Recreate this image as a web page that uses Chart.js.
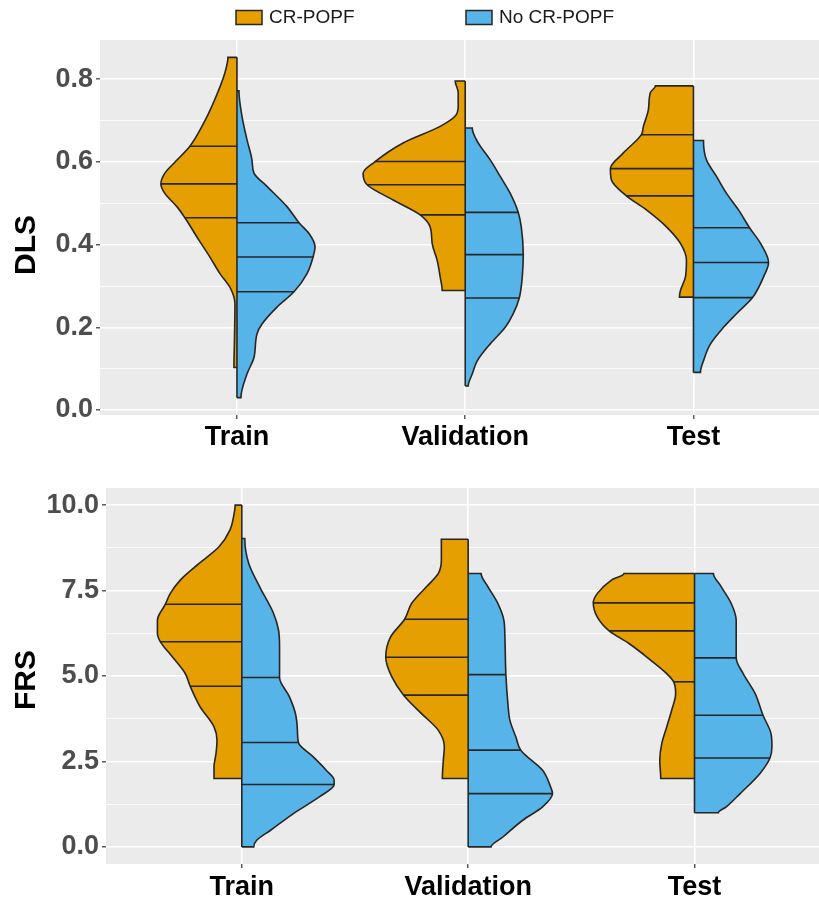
<!DOCTYPE html>
<html>
<head>
<meta charset="utf-8">
<script src="https://cdn.jsdelivr.net/npm/chart.js@4.4.1/dist/chart.umd.min.js"></script>
<style>
html,body{margin:0;padding:0;background:#ffffff;width:819px;height:905px;overflow:hidden}
#c1{position:absolute;left:0;top:0}
#c2{position:absolute;left:0;top:452px}
</style>
</head>
<body>
<canvas id="c1" width="819" height="452"></canvas>
<canvas id="c2" width="819" height="453"></canvas>
<script>
// ---------------- data ----------------
const categories = ['Train', 'Validation', 'Test'];
const seriesNames = ['CR-POPF', 'No CR-POPF'];
const seriesColors = ['#E69F00', '#56B4E9'];
const panelTitles = ['DLS', 'FRS'];

const dlsMajorTicks = [0.0, 0.2, 0.4, 0.6, 0.8];
const dlsMinorTicks = [0.1, 0.3, 0.5, 0.7];
const frsMajorTicks = [0.0, 2.5, 5.0, 7.5, 10.0];
const frsMinorTicks = [1.25, 3.75, 6.25, 8.75];

// DLS – density profiles (value levels, relative half-width) and quartiles
const dlsTrainPosY = [0.853, 0.816, 0.735, 0.695, 0.638, 0.597, 0.573, 0.547, 0.524, 0.492, 0.465, 0.411, 0.370, 0.330, 0.297, 0.257, 0.168, 0.103];
const dlsTrainPosW = [9, 12, 25, 33, 47, 63, 72, 76, 72, 60, 52, 38, 27, 17, 7, 2, 2.5, 3];
const dlsTrainPosQ = [0.465, 0.547, 0.638];
const dlsTrainNegY = [0.772, 0.711, 0.654, 0.605, 0.573, 0.541, 0.492, 0.453, 0.427, 0.395, 0.370, 0.330, 0.286, 0.249, 0.208, 0.184, 0.127, 0.087, 0.030];
const dlsTrainNegW = [2, 5, 10, 15, 17, 30, 50, 62, 72, 78, 76, 70, 57, 40, 25, 20, 17, 10, 4];
const dlsTrainNegQ = [0.286, 0.370, 0.453];

const dlsValPosY = [0.796, 0.768, 0.735, 0.711, 0.686, 0.646, 0.601, 0.573, 0.545, 0.508, 0.472, 0.443, 0.403, 0.362, 0.322, 0.289];
const dlsValPosW = [10, 7, 7, 10, 25, 62, 90, 102, 98, 72, 45, 35, 33, 28, 25, 23];
const dlsValPosQ = [0.472, 0.545, 0.601];
const dlsValNegY = [0.682, 0.646, 0.605, 0.565, 0.524, 0.478, 0.443, 0.376, 0.322, 0.271, 0.233, 0.200, 0.160, 0.119, 0.087, 0.058];
const dlsValNegW = [7, 13, 25, 35, 45, 53, 56, 58, 57, 54, 48, 40, 25, 12, 7, 3];
const dlsValNegQ = [0.271, 0.376, 0.478];

const dlsTestPosY = [0.784, 0.768, 0.727, 0.686, 0.666, 0.622, 0.584, 0.557, 0.518, 0.484, 0.443, 0.403, 0.362, 0.322, 0.289, 0.273];
const dlsTestPosW = [38, 43, 45, 50, 52, 70, 83, 82, 67, 47, 27, 13, 7, 8, 13, 14];
const dlsTestPosQ = [0.518, 0.584, 0.666];
const dlsTestNegY = [0.652, 0.605, 0.565, 0.524, 0.484, 0.441, 0.403, 0.357, 0.322, 0.272, 0.233, 0.200, 0.160, 0.119, 0.091];
const dlsTestNegW = [10, 13, 23, 33, 45, 56, 67, 75, 70, 59, 43, 30, 17, 10, 7];
const dlsTestNegQ = [0.272, 0.357, 0.441];

// FRS – density profiles and quartiles
const frsTrainPosY = [10.0, 9.756, 9.268, 8.78, 8.293, 7.805, 7.415, 7.10, 6.634, 6.244, 6.0, 5.561, 5.073, 4.702, 4.098, 3.512, 3.122, 2.732, 2.341, 2.0];
const frsTrainPosW = [6.7, 7.7, 12, 23, 43, 62, 72, 77, 85, 85, 82, 70, 57, 52, 42, 28, 25, 26, 28, 28];
const frsTrainPosQ = [4.702, 6.0, 7.10];
const frsTrainNegY = [9.024, 8.293, 7.61, 6.829, 6.341, 5.854, 4.956, 4.39, 3.902, 3.415, 3.054, 2.634, 2.244, 1.951, 1.824, 1.463, 0.976, 0.488, 0.195, 0.0];
const frsTrainNegW = [3, 7, 18, 32, 37, 38, 38, 48, 54, 56, 57, 72, 85, 93, 93, 78, 52, 29, 15, 12];
const frsTrainNegQ = [1.824, 3.054, 4.956];

const frsValPosY = [9.0, 8.39, 8.0, 7.61, 7.12, 6.66, 6.15, 5.55, 4.98, 4.44, 3.90, 3.41, 2.93, 2.54, 2.0];
const frsValPosW = [27, 27, 30, 42, 57, 64, 78, 83, 77, 65, 47, 30, 24, 25, 26];
const frsValPosQ = [4.44, 5.55, 6.66];
const frsValNegY = [8.0, 7.61, 7.12, 6.63, 6.15, 5.04, 4.20, 3.71, 3.22, 2.83, 2.24, 1.76, 1.56, 1.17, 0.78, 0.29, 0.0];
const frsValNegW = [13, 20, 30, 36, 37, 38, 40, 42, 48, 53, 75, 83, 85, 75, 55, 35, 23];
const frsValNegQ = [1.56, 2.83, 5.04];

const frsTestPosY = [8.0, 7.80, 7.41, 7.14, 6.73, 6.32, 5.95, 5.46, 5.07, 4.83, 4.49, 4.0, 3.51, 3.02, 2.54, 2.0];
const frsTestPosW = [71, 84, 98, 102, 98, 86, 66, 44, 28, 21, 19, 23, 28, 33, 35, 34];
const frsTestPosQ = [4.83, 6.32, 7.14];
const frsTestNegY = [8.0, 7.61, 7.12, 6.63, 6.15, 5.53, 5.07, 4.49, 3.85, 3.32, 2.93, 2.60, 2.15, 1.56, 1.17, 1.0];
const frsTestNegW = [19, 27, 37, 42, 42, 42, 49, 61, 69, 77, 78, 76, 66, 46, 32, 24];
const frsTestNegQ = [2.60, 3.85, 5.53];

// ---------------- helpers ----------------
const FONT = "'Liberation Sans', Arial, Helvetica, sans-serif";
const OUTLINE = '#262626';
const DENSITY_TO_CATEGORY = 1 / 228;   // converts relative half-width into category units

Chart.defaults.font.family = FONT;

function interpWidth(ys, ws, q) {
  for (let i = 0; i < ys.length - 1; i++) {
    const a = ys[i], b = ys[i + 1];
    if (q <= a && q >= b) {
      const t = a === b ? 0 : (a - q) / (a - b);
      return ws[i] + t * (ws[i + 1] - ws[i]);
    }
  }
  return 0;
}

function buildDatasets(violins) {
  const ds = [];
  violins.forEach(v => {
    const c = v.cat + 1;
    const sgn = v.side === 0 ? -1 : 1;
    const pts = [{ x: c, y: v.y[0] }];
    v.y.forEach((y, i) => pts.push({ x: c + sgn * v.w[i] * DENSITY_TO_CATEGORY, y: y }));
    pts.push({ x: c, y: v.y[v.y.length - 1] });
    ds.push({
      label: seriesNames[v.side],
      data: pts,
      fill: 'shape',
      backgroundColor: seriesColors[v.side],
      borderColor: OUTLINE,
      borderWidth: 1.6,
      cubicInterpolationMode: 'monotone',
      pointRadius: 0,
      order: 5
    });
    v.q.forEach(q => {
      const w = interpWidth(v.y, v.w, q);
      ds.push({
        label: 'quartile',
        data: [{ x: c, y: q }, { x: c + sgn * w * DENSITY_TO_CATEGORY, y: q }],
        fill: false,
        borderColor: OUTLINE,
        borderWidth: 1.6,
        tension: 0,
        pointRadius: 0,
        order: 1
      });
    });
  });
  categories.forEach((cat, ci) => {
    const vs = violins.filter(v => v.cat === ci);
    const top = Math.max(...vs.map(v => v.y[0]));
    const bot = Math.min(...vs.map(v => v.y[v.y.length - 1]));
    ds.push({
      label: 'center',
      data: [{ x: ci + 1, y: top }, { x: ci + 1, y: bot }],
      fill: false,
      borderColor: OUTLINE,
      borderWidth: 1.6,
      tension: 0,
      pointRadius: 0,
      order: 0
    });
  });
  return ds;
}

const panelBg = {
  id: 'panelBg',
  beforeDraw(chart) {
    const { ctx, chartArea: a } = chart;
    ctx.save();
    ctx.fillStyle = '#EBEBEB';
    ctx.fillRect(a.left, a.top, a.right - a.left, a.bottom - a.top);
    ctx.restore();
  }
};

const yTitle = {
  id: 'yTitle',
  afterDraw(chart, args, opts) {
    const ctx = chart.ctx;
    ctx.save();
    ctx.translate(27, opts.centerY);
    ctx.rotate(-Math.PI / 2);
    ctx.fillStyle = '#000000';
    ctx.font = 'bold 30px ' + FONT;
    ctx.textAlign = 'center';
    ctx.textBaseline = 'middle';
    ctx.fillText(opts.text, 0, 0);
    ctx.restore();
  }
};

const topLegend = {
  id: 'topLegend',
  afterDraw(chart) {
    const ctx = chart.ctx;
    ctx.save();
    const starts = [236, 466];
    seriesNames.forEach((name, i) => {
      const x = starts[i];
      ctx.fillStyle = seriesColors[i];
      ctx.fillRect(x, 10.5, 26, 14);
      ctx.strokeStyle = OUTLINE;
      ctx.lineWidth = 1.5;
      ctx.strokeRect(x, 10.5, 26, 14);
      ctx.fillStyle = '#1a1a1a';
      ctx.font = '19px ' + FONT;
      ctx.textBaseline = 'middle';
      ctx.textAlign = 'left';
      ctx.fillText(name, x + 33, 18);
    });
    ctx.restore();
  }
};

function isIn(list, v) { return list.some(m => Math.abs(m - v) < 1e-9); }

function makeOptions(cfg) {
  const allTicks = cfg.majors.concat(cfg.minors).sort((a, b) => a - b);
  return {
    responsive: false,
    animation: false,
    events: [],
    indexAxis: 'y',
    layout: { padding: { top: cfg.padTop, left: 0, right: 0, bottom: 0 } },
    plugins: {
      legend: { display: false },
      tooltip: { enabled: false },
      yTitle: { text: cfg.title, centerY: cfg.titleY }
    },
    scales: {
      x: {
        type: 'linear',
        min: 0.4,
        max: 3.55,
        afterBuildTicks: s => { s.ticks = categories.map((c, i) => ({ value: i + 1 })); },
        afterFit: s => { s.height = cfg.xHeight; },
        ticks: {
          autoSkip: false,
          maxRotation: 0,
          padding: cfg.xPad,
          color: '#000000',
          font: { family: FONT, size: 27, weight: 'bold' },
          callback: v => categories[Math.round(v) - 1]
        },
        grid: { color: '#FFFFFF', lineWidth: 1.6, tickColor: '#333333', tickLength: 4, tickWidth: 1.2 },
        border: { display: false }
      },
      y: {
        type: 'linear',
        min: cfg.min,
        max: cfg.max,
        afterBuildTicks: s => { s.ticks = allTicks.map(v => ({ value: v })); },
        afterFit: s => { s.width = cfg.yWidth; },
        ticks: {
          autoSkip: false,
          padding: 3,
          color: '#4D4D4D',
          font: { family: FONT, size: 27, weight: 'bold' },
          callback: v => isIn(cfg.majors, v) ? v.toFixed(1) : ''
        },
        grid: {
          color: '#FFFFFF',
          lineWidth: c => (c.tick && isIn(cfg.majors, c.tick.value)) ? 1.6 : 0.8,
          tickColor: c => (c.tick && isIn(cfg.majors, c.tick.value)) ? '#333333' : 'rgba(0,0,0,0)',
          tickLength: 4,
          tickWidth: 1.2
        },
        border: { display: false }
      }
    }
  };
}

const dlsViolins = [
  { cat: 0, side: 0, y: dlsTrainPosY, w: dlsTrainPosW, q: dlsTrainPosQ },
  { cat: 0, side: 1, y: dlsTrainNegY, w: dlsTrainNegW, q: dlsTrainNegQ },
  { cat: 1, side: 0, y: dlsValPosY, w: dlsValPosW, q: dlsValPosQ },
  { cat: 1, side: 1, y: dlsValNegY, w: dlsValNegW, q: dlsValNegQ },
  { cat: 2, side: 0, y: dlsTestPosY, w: dlsTestPosW, q: dlsTestPosQ },
  { cat: 2, side: 1, y: dlsTestNegY, w: dlsTestNegW, q: dlsTestNegQ }
];
const frsViolins = [
  { cat: 0, side: 0, y: frsTrainPosY, w: frsTrainPosW, q: frsTrainPosQ },
  { cat: 0, side: 1, y: frsTrainNegY, w: frsTrainNegW, q: frsTrainNegQ },
  { cat: 1, side: 0, y: frsValPosY, w: frsValPosW, q: frsValPosQ },
  { cat: 1, side: 1, y: frsValNegY, w: frsValNegW, q: frsValNegQ },
  { cat: 2, side: 0, y: frsTestPosY, w: frsTestPosW, q: frsTestPosQ },
  { cat: 2, side: 1, y: frsTestNegY, w: frsTestNegW, q: frsTestNegQ }
];

new Chart(document.getElementById('c1'), {
  type: 'line',
  data: { datasets: buildDatasets(dlsViolins) },
  options: makeOptions({ title: panelTitles[0], titleY: 245, min: -0.012, max: 0.895, majors: dlsMajorTicks, minors: dlsMinorTicks, padTop: 40, xHeight: 37, yWidth: 100, xPad: 2 }),
  plugins: [panelBg, yTitle, topLegend]
});

new Chart(document.getElementById('c2'), {
  type: 'line',
  data: { datasets: buildDatasets(frsViolins) },
  options: makeOptions({ title: panelTitles[1], titleY: 228, min: -0.5, max: 10.5, majors: frsMajorTicks, minors: frsMinorTicks, padTop: 36, xHeight: 41, yWidth: 106, xPad: 3 }),
  plugins: [panelBg, yTitle]
});
</script>
</body>
</html>
